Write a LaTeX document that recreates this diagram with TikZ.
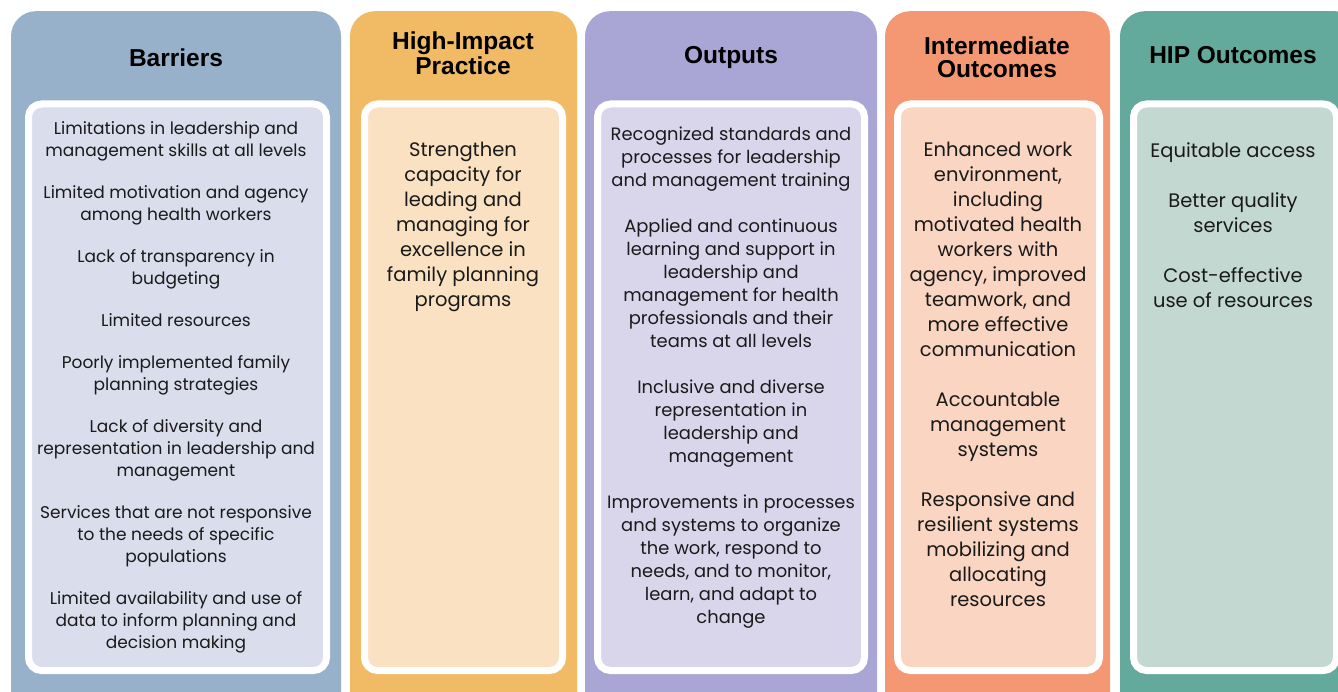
\documentclass[tikz,border=0pt]{standalone}
\usepackage{fontspec}
\setmainfont{Poppins}
\newfontfamily\headfont{Liberation Sans}
\definecolor{barrierblue}{HTML}{98B1CB}
\definecolor{barrierpale}{HTML}{DADDEC}
\definecolor{practiceorange}{HTML}{F1BB66}
\definecolor{practicepale}{HTML}{F9E1C1}
\definecolor{outputpurple}{HTML}{A9A5D4}
\definecolor{outputpale}{HTML}{D9D6EC}
\definecolor{intersalmon}{HTML}{F49874}
\definecolor{interpale}{HTML}{F9D5C2}
\definecolor{outcomegreen}{HTML}{63AA9C}
\definecolor{outcomepale}{HTML}{C3D8D1}
\definecolor{inktext}{HTML}{1A1A1A}
\tikzset{
	column/.style  = {rounded corners=25pt, anchor=north, inner sep=0pt, minimum height=720pt},
	card/.style    = {draw=white, line width=7pt, rounded corners=13pt, anchor=north, inner sep=0pt, minimum height=566.5pt},
	heading/.style = {font=\headfont\bfseries\fontsize{24.5}{25}\selectfont, align=center, anchor=north, inner sep=0pt, text=black},
	small/.style   = {font=\fontsize{17}{22}\selectfont, align=center, anchor=north, inner sep=0pt, text=inktext},
	medium/.style  = {font=\fontsize{17.9}{23}\selectfont, align=center, anchor=north, inner sep=0pt, text=inktext},
	large/.style   = {font=\fontsize{19.5}{25}\selectfont, align=center, anchor=north, inner sep=0pt, text=inktext},
}

\begin{document}
\begin{tikzpicture}[x=1pt, y=-1pt]
		\clip (0,0) rectangle (1338,692);
		% Draw the coloured columns
		\node[column, fill=barrierblue   , minimum width=330pt] (barriers)     at (176,11)    {};
		\node[column, fill=practiceorange, minimum width=227pt] (practice)     at (463.5,11)  {};
		\node[column, fill=outputpurple  , minimum width=292pt] (outputs)      at (731,11)    {};
		\node[column, fill=intersalmon   , minimum width=225pt] (intermediate) at (997.5,11)  {};
		\node[column, fill=outcomegreen  , minimum width=240pt] (outcomes)     at (1240,11)   {};
		
		% Draw the inner cards
		\node[card, fill=barrierpale , minimum width=298pt] (barriercard)  at (177.5,100.5) {};
		\node[card, fill=practicepale, minimum width=198pt] (practicecard) at (463.5,100.5) {};
		\node[card, fill=outputpale  , minimum width=267pt] (outputcard)   at (731,100.5)   {};
		\node[card, fill=interpale   , minimum width=202pt] (intercard)    at (998.5,100.5) {};
		\node[card, fill=outcomepale , minimum width=203pt] (outcomecard)  at (1235,100.5)  {};
		
		% Column headings
		\node[heading] (barriershead)     at (176,49)  {Barriers};
		\node[heading] (practicehead)     at (463,32)  {High-Impact\\[0pt]Practice};
		\node[heading] (outputshead)      at (731,46)  {Outputs};
		\node[heading] (intermediatehead) at (997,37)  {Intermediate\\[-2pt]Outcomes};
		\node[heading] (outcomeshead)     at (1233,46) {HIP Outcomes};
		
		% Column texts
		\node[small] (barriertext) at (176,121) {Limitations in leadership and\\management skills at all levels\\[20pt]
			Limited motivation and agency\\among health workers\\[20pt]
			Lack of transparency in\\budgeting\\[20pt]
			Limited resources\\[20pt]
			Poorly implemented family\\planning strategies\\[20pt]
			Lack of diversity and\\representation in leadership and\\management\\[20pt]
			Services that are not responsive\\to the needs of specific\\populations\\[20pt]
			Limited availability and use of\\data to inform planning and\\decision making};
		\node[large] (practicetext) at (463,142) {Strengthen\\capacity for\\leading and\\managing for\\excellence in\\family planning\\programs};
		\node[medium] (outputtext) at (731,127) {Recognized standards and\\processes for leadership\\and management training\\[23pt]
			Applied and continuous\\learning and support in\\leadership and\\management for health\\professionals and their\\teams at all levels\\[23pt]
			Inclusive and diverse\\representation in\\leadership and\\management\\[23pt]
			Improvements in processes\\and systems to organize\\the work, respond to\\needs, and to monitor,\\learn, and adapt to\\change};
		\node[large] (intertext) at (998,142) {Enhanced work\\environment,\\including\\motivated health\\workers with\\agency, improved\\teamwork, and\\more effective\\communication\\[25pt]
			Accountable\\management\\systems\\[25pt]
			Responsive and\\resilient systems\\mobilizing and\\allocating\\resources};
		\node[large] (outcometext) at (1233,142) {Equitable access\\[25pt]
			Better quality\\services\\[25pt]
			Cost-effective\\use of resources};
\end{tikzpicture}
\end{document}
